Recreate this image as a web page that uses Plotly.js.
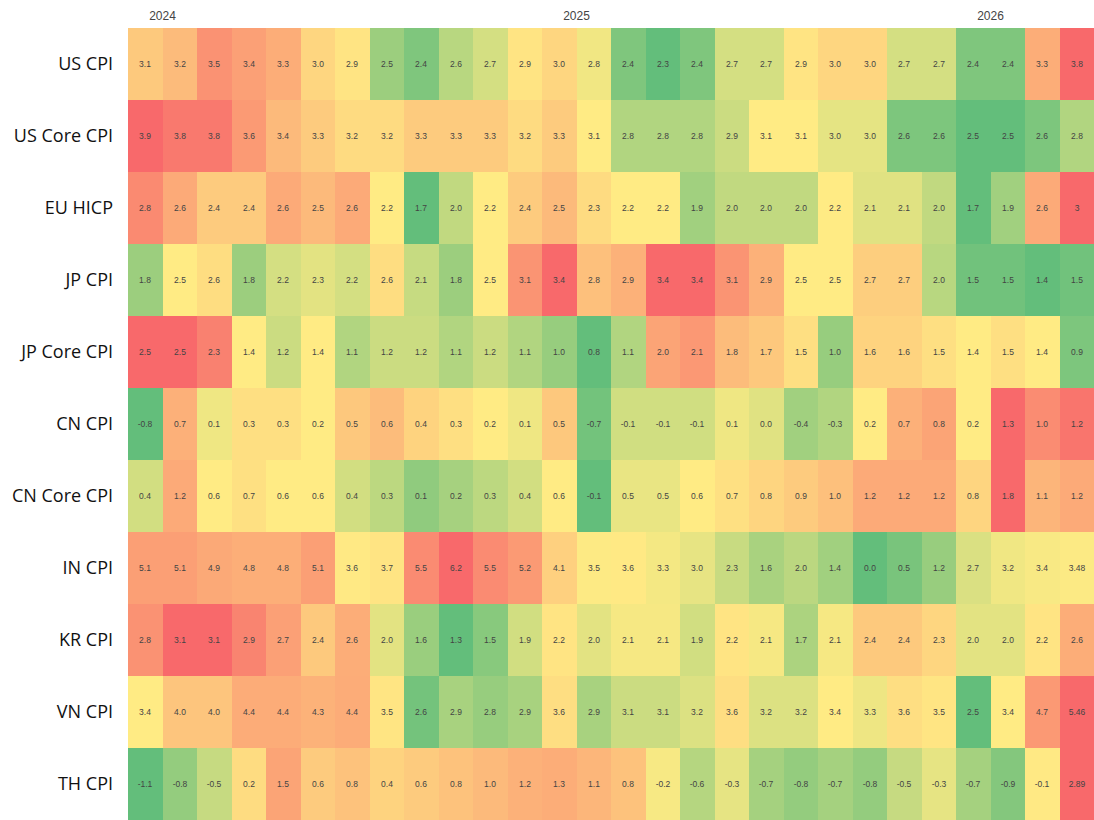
<!DOCTYPE html>
<html>
<head>
<meta charset="utf-8">
<script src="https://cdn.plot.ly/plotly-3.0.1.min.js"></script>
<style>
  html, body { margin: 0; padding: 0; background: #ffffff; }
  #chart { width: 1094px; height: 820px; }
</style>
</head>
<body>
<div id="chart"></div>
<script>
// Months (columns)
const months = [
  '2024-01','2024-02','2024-03','2024-04','2024-05','2024-06','2024-07','2024-08','2024-09','2024-10','2024-11','2024-12',
  '2025-01','2025-02','2025-03','2025-04','2025-05','2025-06','2025-07','2025-08','2025-09','2025-10','2025-11','2025-12',
  '2026-01','2026-02','2026-03','2026-04'
];

// Year tick labels
const yearLabels = ['2024', '2025', '2026'];

// Indicators (rows, top to bottom)
const indicators = ['US CPI','US Core CPI','EU HICP','JP CPI','JP Core CPI','CN CPI','CN Core CPI','IN CPI','KR CPI','VN CPI','TH CPI'];

// Year-over-year inflation, %
const usCpi     = [3.1,3.2,3.5,3.4,3.3,3.0,2.9,2.5,2.4,2.6,2.7,2.9, 3.0,2.8,2.4,2.3,2.4,2.7,2.7,2.9,3.0,3.0,2.7,2.7, 2.4,2.4,3.3,3.8];
const usCoreCpi = [3.9,3.8,3.8,3.6,3.4,3.3,3.2,3.2,3.3,3.3,3.3,3.2, 3.3,3.1,2.8,2.8,2.8,2.9,3.1,3.1,3.0,3.0,2.6,2.6, 2.5,2.5,2.6,2.8];
const euHicp    = [2.8,2.6,2.4,2.4,2.6,2.5,2.6,2.2,1.7,2.0,2.2,2.4, 2.5,2.3,2.2,2.2,1.9,2.0,2.0,2.0,2.2,2.1,2.1,2.0, 1.7,1.9,2.6,3];
const jpCpi     = [1.8,2.5,2.6,1.8,2.2,2.3,2.2,2.6,2.1,1.8,2.5,3.1, 3.4,2.8,2.9,3.4,3.4,3.1,2.9,2.5,2.5,2.7,2.7,2.0, 1.5,1.5,1.4,1.5];
const jpCoreCpi = [2.5,2.5,2.3,1.4,1.2,1.4,1.1,1.2,1.2,1.1,1.2,1.1, 1.0,0.8,1.1,2.0,2.1,1.8,1.7,1.5,1.0,1.6,1.6,1.5, 1.4,1.5,1.4,0.9];
const cnCpi     = [-0.8,0.7,0.1,0.3,0.3,0.2,0.5,0.6,0.4,0.3,0.2,0.1, 0.5,-0.7,-0.1,-0.1,-0.1,0.1,0.0,-0.4,-0.3,0.2,0.7,0.8, 0.2,1.3,1.0,1.2];
const cnCoreCpi = [0.4,1.2,0.6,0.7,0.6,0.6,0.4,0.3,0.1,0.2,0.3,0.4, 0.6,-0.1,0.5,0.5,0.6,0.7,0.8,0.9,1.0,1.2,1.2,1.2, 0.8,1.8,1.1,1.2];
const inCpi     = [5.1,5.1,4.9,4.8,4.8,5.1,3.6,3.7,5.5,6.2,5.5,5.2, 4.1,3.5,3.6,3.3,3.0,2.3,1.6,2.0,1.4,0.0,0.5,1.2, 2.7,3.2,3.4,3.48];
const krCpi     = [2.8,3.1,3.1,2.9,2.7,2.4,2.6,2.0,1.6,1.3,1.5,1.9, 2.2,2.0,2.1,2.1,1.9,2.2,2.1,1.7,2.1,2.4,2.4,2.3, 2.0,2.0,2.2,2.6];
const vnCpi     = [3.4,4.0,4.0,4.4,4.4,4.3,4.4,3.5,2.6,2.9,2.8,2.9, 3.6,2.9,3.1,3.1,3.2,3.6,3.2,3.2,3.4,3.3,3.6,3.5, 2.5,3.4,4.7,5.46];
const thCpi     = [-1.1,-0.8,-0.5,0.2,1.5,0.6,0.8,0.4,0.6,0.8,1.0,1.2, 1.3,1.1,0.8,-0.2,-0.6,-0.3,-0.7,-0.8,-0.7,-0.8,-0.5,-0.3, -0.7,-0.9,-0.1,2.89];

const rows = [usCpi, usCoreCpi, euHicp, jpCpi, jpCoreCpi, cnCpi, cnCoreCpi, inCpi, krCpi, vnCpi, thCpi];

// Row-wise 3-colour scale: min -> green, median -> yellow, max -> red
function median(arr) {
  const s = arr.slice().sort((a, b) => a - b);
  const n = s.length;
  return n % 2 ? s[(n - 1) / 2] : (s[n / 2 - 1] + s[n / 2]) / 2;
}
function normalizeRow(arr) {
  const mn = Math.min(...arr), mx = Math.max(...arr), md = median(arr);
  return arr.map(v => {
    if (v <= md) return md === mn ? 0.5 : 0.5 * (v - mn) / (md - mn);
    return mx === md ? 0.5 : 0.5 + 0.5 * (v - md) / (mx - md);
  });
}
const zNorm = rows.map(normalizeRow);
const labels = rows.map(r => r.map((v, j) => j === r.length - 1 ? String(v) : v.toFixed(1)));

const trace = {
  type: 'heatmap',
  x: months,
  y: indicators,
  z: zNorm,
  text: labels,
  texttemplate: '%{text}',
  textfont: { family: 'Liberation Sans, Arial, sans-serif', size: 8.5, color: '#444444' },
  colorscale: [[0, '#63BE7B'], [0.5, '#FFEB84'], [1, '#F8696B']],
  zmin: 0, zmax: 1,
  showscale: false,
  hoverinfo: 'skip',
  xgap: 0, ygap: 0
};

const layout = {
  width: 1094, height: 820,
  margin: { l: 128, r: 0, t: 28, b: 0, pad: 0 },
  paper_bgcolor: '#ffffff',
  plot_bgcolor: '#ffffff',
  font: { family: 'Open Sans, sans-serif', color: '#444444' },
  xaxis: {
    type: 'category',
    side: 'top',
    showgrid: false, zeroline: false, showline: false,
    ticks: '',
    tickmode: 'array',
    tickvals: [0.5, 12.5, 24.5],
    ticktext: yearLabels,
    tickfont: { family: 'Liberation Sans, Arial, sans-serif', size: 12, color: '#444444' },
    ticklabelstandoff: 5
  },
  yaxis: {
    type: 'category',
    autorange: 'reversed',
    showgrid: false, zeroline: false, showline: false,
    ticks: '',
    tickfont: { family: 'Open Sans, sans-serif', size: 18, color: '#111111' },
    ticklabelstandoff: 14
  },
  showlegend: false
};

Plotly.newPlot('chart', [trace], layout, { displayModeBar: false, staticPlot: true });
</script>
</body>
</html>
